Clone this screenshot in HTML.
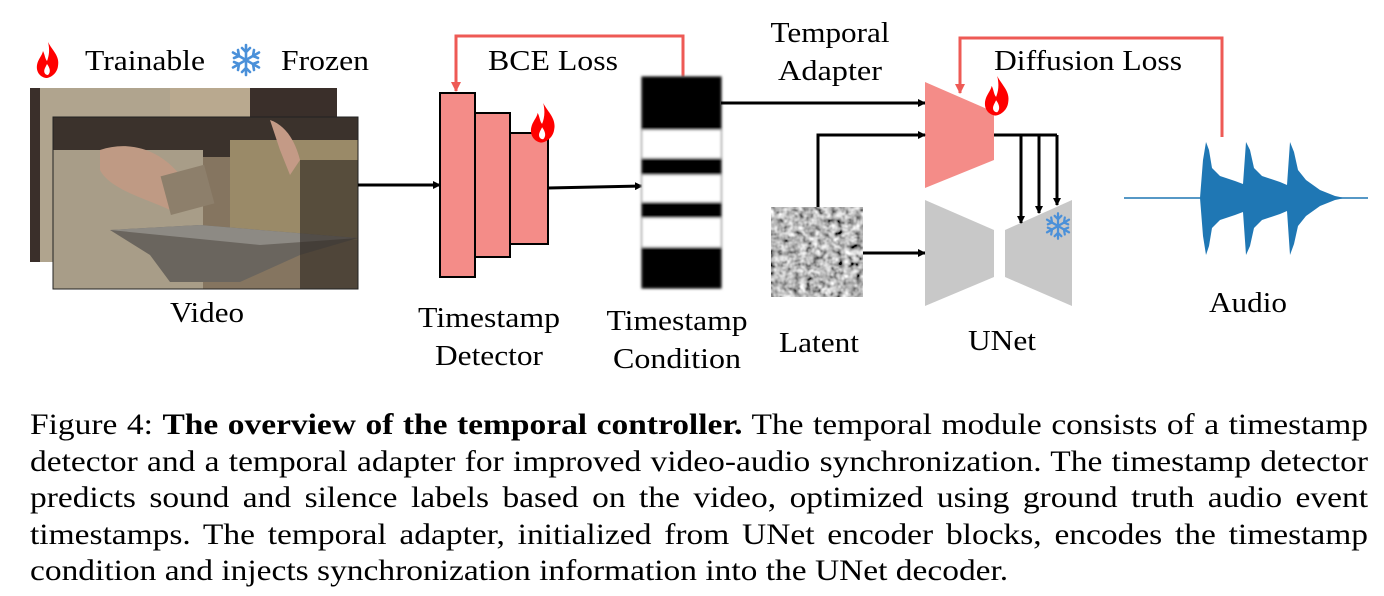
<!DOCTYPE html>
<html><head><meta charset="utf-8"><style>
html,body{margin:0;padding:0;background:#fff;width:1384px;height:596px;overflow:hidden;position:relative}
svg{position:absolute;left:0;top:0}
.cap{position:absolute;left:30px;width:1200px;transform:scaleX(1.115);transform-origin:0 0;font-family:"Liberation Serif",serif;font-size:30px;line-height:36px;color:#000;text-align:justify;text-align-last:justify;white-space:nowrap}
.last{text-align-last:left}
</style></head><body>
<svg width="1384" height="400" viewBox="0 0 1384 400" xmlns="http://www.w3.org/2000/svg">
<defs>
<filter id="noise" x="0" y="0" width="100%" height="100%"><feTurbulence type="fractalNoise" baseFrequency="0.16" numOctaves="2" seed="3"/><feColorMatrix type="matrix" values="0.33 0.33 0.33 0 0  0.33 0.33 0.33 0 0  0.33 0.33 0.33 0 0  0 0 0 0 1"/><feComponentTransfer><feFuncR type="linear" slope="2.6" intercept="-0.8"/><feFuncG type="linear" slope="2.6" intercept="-0.8"/><feFuncB type="linear" slope="2.6" intercept="-0.8"/></feComponentTransfer></filter>
<filter id="blur1"><feGaussianBlur stdDeviation="1.3"/></filter>
<marker id="ah" markerWidth="8" markerHeight="8" refX="7" refY="4" orient="auto" markerUnits="userSpaceOnUse"><path d="M0,0 L8,4 L0,8 Z" fill="#000"/></marker>
<marker id="ahr" markerWidth="10" markerHeight="10" refX="9" refY="5" orient="auto" markerUnits="userSpaceOnUse"><path d="M0,0 L10,5 L0,10 Z" fill="#ee5a55"/></marker>
<g id="flame"><path d="M12,0 C16,8 24,14 22,24 C21,32 14,36 10,36 C4,35 0,30 1,23 C2,17 6,14 7,9 C9,13 9,17 11,19 C13,14 14,8 12,0 Z" fill="#f00"/><path d="M11,22 C14,26 15,30 12,33 C9,33 7,30 9,26 Z" fill="#fff"/></g>
<g id="snow" stroke="#4a90d9" stroke-width="2.6" stroke-linecap="round" fill="none"><path d="M0,-15 V15 M-13,-7.5 L13,7.5 M-13,7.5 L13,-7.5"/><path d="M-4,-12 L0,-8 L4,-12 M-4,12 L0,8 L4,12 M-12,-2 L-7,-4 L-8,-10 M12,2 L7,4 L8,10 M-12,2 L-7,4 L-8,10 M12,-2 L7,-4 L8,-10"/></g>
</defs>
<g font-family="Liberation Serif, serif" font-size="29" fill="#000">
<use href="#flame" transform="translate(36,42)"/>
<text x="85" y="70" textLength="120" lengthAdjust="spacingAndGlyphs">Trainable</text>
<use href="#snow" transform="translate(246,60)"/>
<text x="281" y="70" textLength="88" lengthAdjust="spacingAndGlyphs">Frozen</text>
<rect x="30" y="88" width="307" height="174" fill="#3a2f2a"/>
<rect x="40" y="88" width="130" height="174" fill="#b0a48e"/>
<rect x="170" y="88" width="80" height="60" fill="#b9a98f"/>
<rect x="53" y="117" width="305" height="172" fill="#857560"/>
<rect x="53" y="117" width="305" height="40" fill="#3b322c"/>
<rect x="230" y="140" width="128" height="100" fill="#9a8a68"/>
<rect x="53" y="150" width="150" height="139" fill="#a89d88"/>
<path d="M100,150 C130,140 160,150 180,175 L170,210 C150,200 110,190 100,170 Z" fill="#bf9a84"/>
<rect x="165" y="170" width="45" height="40" fill="#8d7f6b" transform="rotate(-15 187 190)"/>
<path d="M110,230 L200,225 L358,238 L300,255 L240,282 L170,282 L150,255 Z" fill="#6a655e"/>
<path d="M110,230 L200,225 L358,238 L260,245 Z" fill="#8d8a84"/>
<path d="M270,120 C285,125 295,140 300,160 L290,175 L280,150 Z" fill="#c49a86"/>
<rect x="300" y="160" width="58" height="129" fill="#2c2420" opacity=".6"/>
<rect x="53" y="117" width="305" height="172" fill="none" stroke="#222" stroke-width="1"/>
<text x="207" y="322" text-anchor="middle" textLength="74" lengthAdjust="spacingAndGlyphs">Video</text>
<path d="M683,77 V36 H456 V91" fill="none" stroke="#ee5a55" stroke-width="3" marker-end="url(#ahr)"/>
<text x="488" y="70" textLength="130" lengthAdjust="spacingAndGlyphs">BCE Loss</text>
<rect x="510" y="133" width="38" height="111" fill="#f48c88" stroke="#000" stroke-width="2"/>
<rect x="475" y="113" width="35" height="144" fill="#f48c88" stroke="#000" stroke-width="2"/>
<rect x="440" y="93" width="35" height="184" fill="#f48c88" stroke="#000" stroke-width="2"/>
<use href="#flame" transform="translate(530,103) scale(1.1)"/>
<line x1="358" y1="185" x2="440" y2="185" stroke="#000" stroke-width="3" marker-end="url(#ah)"/>
<line x1="548" y1="188" x2="642" y2="186" stroke="#000" stroke-width="3" marker-end="url(#ah)"/>
<text x="489" y="327" text-anchor="middle" textLength="142" lengthAdjust="spacingAndGlyphs">Timestamp</text>
<text x="489" y="365" text-anchor="middle" textLength="108" lengthAdjust="spacingAndGlyphs">Detector</text>
<rect x="641" y="76" width="81" height="213" fill="#999" filter="url(#blur1)"/>
<g filter="url(#blur1)">
<rect x="642" y="77" width="79" height="211" fill="#000"/>
<rect x="642" y="130" width="79" height="28" fill="#fff"/>
<rect x="642" y="175" width="79" height="27" fill="#fff"/>
<rect x="642" y="218" width="79" height="29" fill="#fff"/>
</g>
<text x="677" y="330" text-anchor="middle" textLength="141" lengthAdjust="spacingAndGlyphs">Timestamp</text>
<text x="677" y="368" text-anchor="middle" textLength="128" lengthAdjust="spacingAndGlyphs">Condition</text>
<text x="830" y="42" text-anchor="middle" textLength="119" lengthAdjust="spacingAndGlyphs">Temporal</text>
<text x="830" y="80" text-anchor="middle" textLength="104" lengthAdjust="spacingAndGlyphs">Adapter</text>
<line x1="721" y1="103" x2="925" y2="103" stroke="#000" stroke-width="3" marker-end="url(#ah)"/>
<polygon points="925,82 994,112 994,160 925,188" fill="#f48c88"/>
<use href="#flame" transform="translate(984,76) scale(1.1)"/>
<path d="M1222,137 V38 H960 V93" fill="none" stroke="#ee5a55" stroke-width="3" marker-end="url(#ahr)"/>
<text x="994" y="70" textLength="188" lengthAdjust="spacingAndGlyphs">Diffusion Loss</text>
<rect x="771" y="207" width="92" height="90" fill="#777" filter="url(#noise)"/>
<path d="M818,207 V135 H925" fill="none" stroke="#000" stroke-width="3" marker-end="url(#ah)"/>
<line x1="863" y1="253" x2="925" y2="253" stroke="#000" stroke-width="3" marker-end="url(#ah)"/>
<text x="819" y="352" text-anchor="middle" textLength="80" lengthAdjust="spacingAndGlyphs">Latent</text>
<polygon points="925,200 994,230 994,277 925,306" fill="#c8c8c8"/>
<polygon points="1005,230 1072,200 1072,306 1005,277" fill="#c8c8c8"/>
<path d="M994,135 H1057" fill="none" stroke="#000" stroke-width="3"/>
<line x1="1021" y1="135" x2="1021" y2="223" stroke="#000" stroke-width="3" marker-end="url(#ah)"/>
<line x1="1039" y1="135" x2="1039" y2="213" stroke="#000" stroke-width="3" marker-end="url(#ah)"/>
<line x1="1057" y1="135" x2="1057" y2="205" stroke="#000" stroke-width="3" marker-end="url(#ah)"/>
<use href="#snow" transform="translate(1058,226) scale(0.85)"/>
<text x="1002" y="350" text-anchor="middle" textLength="68" lengthAdjust="spacingAndGlyphs">UNet</text>
<line x1="1124" y1="198" x2="1368" y2="198" stroke="#1f77b4" stroke-width="1.5"/>
<polygon fill="#1f77b4" points="1200,198 1203,160 1206,142 1209,150 1212,168 1220,176 1235,181 1243,184 1246,142 1250,150 1254,168 1262,176 1280,182 1287,185 1290,142 1294,152 1298,170 1306,180 1320,190 1335,196 1345,198 1335,200 1320,206 1306,216 1298,226 1294,244 1290,255 1287,211 1280,214 1262,220 1254,228 1250,246 1246,255 1243,212 1235,215 1220,220 1212,228 1209,246 1206,255 1203,236"/>
<text x="1248" y="312" text-anchor="middle" textLength="78" lengthAdjust="spacingAndGlyphs">Audio</text>
</g>
</svg>
<div class="cap" style="top:407px">Figure 4: <b>The overview of the temporal controller.</b> The temporal module consists of a timestamp</div>
<div class="cap" style="top:444px">detector and a temporal adapter for improved video-audio synchronization. The timestamp detector</div>
<div class="cap" style="top:480px">predicts sound and silence labels based on the video, optimized using ground truth audio event</div>
<div class="cap" style="top:517px">timestamps. The temporal adapter, initialized from UNet encoder blocks, encodes the timestamp</div>
<div class="cap last" style="top:553px">condition and injects synchronization information into the UNet decoder.</div>
</body></html>
